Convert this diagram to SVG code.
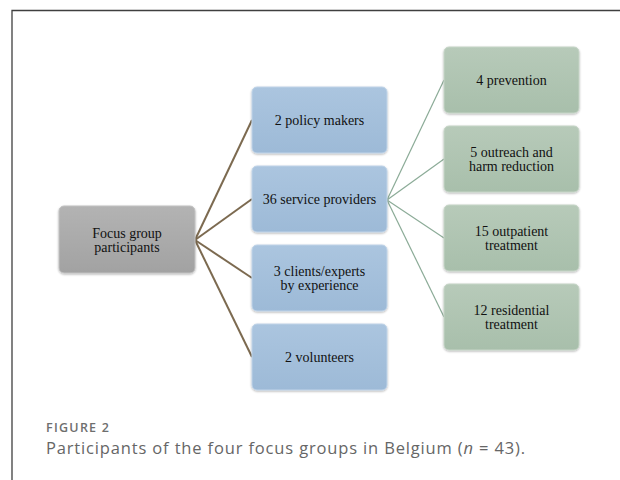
<svg xmlns="http://www.w3.org/2000/svg" width="620" height="480" viewBox="0 0 620 480">
  <defs>
    <linearGradient id="gBlue" x1="0" y1="0" x2="0" y2="1">
      <stop offset="0" stop-color="#abc5df"/>
      <stop offset="1" stop-color="#9dbad7"/>
    </linearGradient>
    <linearGradient id="gGreen" x1="0" y1="0" x2="0" y2="1">
      <stop offset="0" stop-color="#b7cab9"/>
      <stop offset="1" stop-color="#a8bfab"/>
    </linearGradient>
    <linearGradient id="gGray" x1="0" y1="0" x2="0" y2="1">
      <stop offset="0" stop-color="#b3b3b3"/>
      <stop offset="1" stop-color="#a2a2a2"/>
    </linearGradient>
    <filter id="sh" x="-10%" y="-10%" width="120%" height="130%">
      <feGaussianBlur in="SourceAlpha" stdDeviation="1.2"/>
      <feOffset dx="0" dy="1.2" result="b"/>
      <feComponentTransfer><feFuncA type="linear" slope="0.3"/></feComponentTransfer>
      <feMerge><feMergeNode/><feMergeNode in="SourceGraphic"/></feMerge>
    </filter>
  </defs>
  <style>
    .frame { fill: none; stroke: #3f3f3f; stroke-width: 1.3; }
    .box { filter: url(#sh); stroke-width: 1; }
    .blue { fill: url(#gBlue); stroke: #c0d4e8; }
    .green { fill: url(#gGreen); stroke: #c6d5c7; }
    .gray { fill: url(#gGray); stroke: #c2c2c2; }
    .lbl { font-family: "Liberation Serif", "Times New Roman", serif; font-size: 14px; fill: #111; text-anchor: middle; }
    .brown { stroke: #7c6a50; stroke-width: 2; fill: none; }
    .gline { stroke: #8bab97; stroke-width: 1.2; fill: none; }
    .fig { font-family: "Open Sans", "Liberation Sans", sans-serif; font-size: 12.5px; font-weight: 600; fill: #6e6e6e; }
    .cap { font-family: "Open Sans", "Liberation Sans", sans-serif; font-size: 16.5px; fill: #666; }
  </style>
  <rect width="620" height="480" fill="#fff"/>
  <path class="frame" d="M12,480 V10.5 H620"/>

  <g id="connectors">
    <line class="brown" x1="195" y1="240" x2="252" y2="120"/>
    <line class="brown" x1="195" y1="240" x2="252" y2="199"/>
    <line class="brown" x1="195" y1="240" x2="252" y2="278"/>
    <line class="brown" x1="195" y1="240" x2="252" y2="357"/>
    <line class="gline" x1="387" y1="200" x2="444" y2="80"/>
    <line class="gline" x1="387" y1="200" x2="444" y2="159"/>
    <line class="gline" x1="387" y1="200" x2="444" y2="238"/>
    <line class="gline" x1="387" y1="200" x2="444" y2="317"/>
  </g>

  <g id="focus">
    <rect class="box gray" x="59" y="206" width="136" height="67" rx="5"/>
    <text class="lbl" x="127" y="237.5">Focus group</text>
    <text class="lbl" x="127" y="251.5">participants</text>
  </g>

  <g id="policy">
    <rect class="box blue" x="252" y="87" width="135" height="66" rx="5"/>
    <text class="lbl" x="319.5" y="125">2 policy makers</text>
  </g>
  <g id="service">
    <rect class="box blue" x="252" y="166" width="135" height="66" rx="5"/>
    <text class="lbl" x="319.5" y="204">36 service providers</text>
  </g>
  <g id="clients">
    <rect class="box blue" x="252" y="245" width="135" height="66" rx="5"/>
    <text class="lbl" x="319.5" y="276">3 clients/experts</text>
    <text class="lbl" x="319.5" y="290">by experience</text>
  </g>
  <g id="volunteers">
    <rect class="box blue" x="252" y="324" width="135" height="66" rx="5"/>
    <text class="lbl" x="319.5" y="362">2 volunteers</text>
  </g>

  <g id="prevention">
    <rect class="box green" x="444" y="47" width="135" height="66" rx="5"/>
    <text class="lbl" x="511.5" y="85">4 prevention</text>
  </g>
  <g id="outreach">
    <rect class="box green" x="444" y="126" width="135" height="66" rx="5"/>
    <text class="lbl" x="511.5" y="157">5 outreach and</text>
    <text class="lbl" x="511.5" y="171">harm reduction</text>
  </g>
  <g id="outpatient">
    <rect class="box green" x="444" y="205" width="135" height="66" rx="5"/>
    <text class="lbl" x="511.5" y="236">15 outpatient</text>
    <text class="lbl" x="511.5" y="250">treatment</text>
  </g>
  <g id="residential">
    <rect class="box green" x="444" y="284" width="135" height="66" rx="5"/>
    <text class="lbl" x="511.5" y="315">12 residential</text>
    <text class="lbl" x="511.5" y="329">treatment</text>
  </g>

  <text class="fig" x="46" y="432" textLength="63" lengthAdjust="spacing">FIGURE 2</text>
  <text class="cap" x="46" y="454" textLength="479" lengthAdjust="spacing">Participants of the four focus groups in Belgium (<tspan font-style="italic">n</tspan> = 43).</text>
</svg>
